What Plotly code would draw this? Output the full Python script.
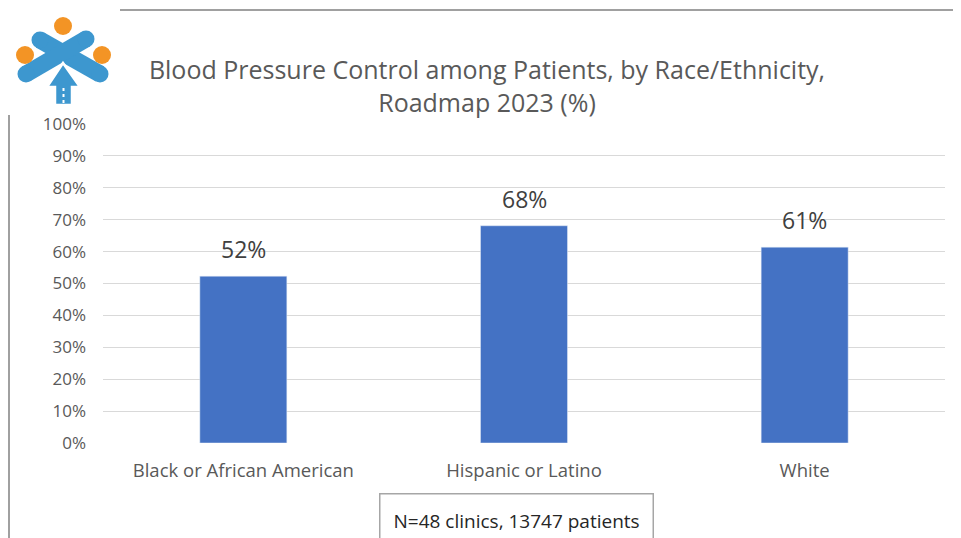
import plotly.graph_objects as go

categories = ["Black or African American", "Hispanic or Latino", "White"]
values = [0.523, 0.681, 0.614]
labels = ["52%", "68%", "61%"]
tick_vals = [i / 10 for i in range(11)]
tick_text = [f"{i*10}%" for i in range(11)]

W, H = 961, 538
OFF = 8  # page offset of the figure in the browser
ML, MT = 103 - OFF, 124 - OFF
PW, PH = 842, 319
MR = W - ML - PW
MB = H - MT - PH

def px(x):
    return (x - OFF - ML) / PW

def py(y):
    return (H - MB - (y - OFF)) / PH

FONT = "Open Sans"

fig = go.Figure()
fig.add_trace(go.Bar(
    x=categories, y=values, width=0.31,
    marker_color="#4472C4",
))

shapes = []
# frame lines
shapes.append(dict(type="line", xref="paper", yref="paper", x0=px(120), x1=px(975), y0=py(10), y1=py(10),
                   line=dict(color="#808080", width=1.5)))
shapes.append(dict(type="line", xref="paper", yref="paper", x0=px(9), x1=px(9), y0=py(115), y1=py(560),
                   line=dict(color="#808080", width=1.5)))
# logo: blue X with rounded ends
blue = "#3D97CF"
orange = "#F39425"
LW = 17
for (x0, y0, x1, y1) in [(40, 40, 100, 74), (86, 39, 26, 74)]:
    shapes.append(dict(type="line", xref="paper", yref="paper", x0=px(x0), y0=py(y0), x1=px(x1), y1=py(y1),
                       line=dict(color=blue, width=LW)))
    for cx, cy in [(x0, y0), (x1, y1)]:
        r = LW / 2
        shapes.append(dict(type="circle", xref="paper", yref="paper", x0=px(cx - r), x1=px(cx + r),
                           y0=py(cy - r), y1=py(cy + r), fillcolor=blue, line=dict(width=0)))
# arrow/house
path = "M {} {} L {} {} L {} {} L {} {} L {} {} L {} {} L {} {} Z".format(
    px(63), py(63), px(80), py(87), px(72), py(87), px(72), py(105),
    px(55), py(105), px(55), py(87), px(47), py(87))
shapes.append(dict(type="path", xref="paper", yref="paper", path=path, fillcolor=blue,
                   line=dict(color="white", width=2.5)))
shapes.append(dict(type="line", xref="paper", yref="paper", x0=px(63.5), y0=py(88), x1=px(63.5), y1=py(103),
                   line=dict(color="white", width=2, dash="dot")))
# orange circles
for cx, cy, r in [(63, 26, 9), (25, 55, 9), (102, 55, 9)]:
    shapes.append(dict(type="circle", xref="paper", yref="paper", x0=px(cx - r), x1=px(cx + r),
                       y0=py(cy - r), y1=py(cy + r), fillcolor=orange, line=dict(width=0)))

annotations = [dict(x=c, y=v, text=t, xref="x", yref="y", showarrow=False, yanchor="bottom",
                    yshift=9, font=dict(size=23, color="#404040", family=FONT))
               for c, v, t in zip(categories, values, labels)]
annotations.append(dict(text="N=48 clinics, 13747 patients", xref="paper", yref="paper",
                        x=px(516), y=py(520), xanchor="center", yanchor="middle", showarrow=False,
                        font=dict(size=19, color="#262626", family=FONT),
                        bordercolor="#A6A6A6", borderwidth=1.5, borderpad=13, bgcolor="white"))

fig.update_layout(
    width=W, height=H,
    margin=dict(l=ML, r=MR, t=MT, b=MB),
    paper_bgcolor="white", plot_bgcolor="white",
    font=dict(family=FONT, color="#595959"),
    showlegend=False,
    title=dict(text="Blood Pressure Control among Patients, by Race/Ethnicity,<br>Roadmap 2023 (%)",
               x=(487 - OFF) / W, xanchor="center", y=1 - (79 - OFF) / H, yanchor="middle",
               font=dict(size=25, color="#595959", family=FONT)),
    xaxis=dict(showline=False, ticks="", tickfont=dict(size=18.5, color="#595959"), showgrid=False,
               ticklabelstandoff=14),
    yaxis=dict(range=[0, 1], tickvals=tick_vals, ticktext=tick_text, showgrid=True,
               gridcolor="#D9D9D9", gridwidth=1, zeroline=False, showline=False,
               tickfont=dict(size=17, color="#595959"), ticklabelstandoff=16),
    shapes=shapes,
    annotations=annotations,
)

fig.write_html("out.html")
